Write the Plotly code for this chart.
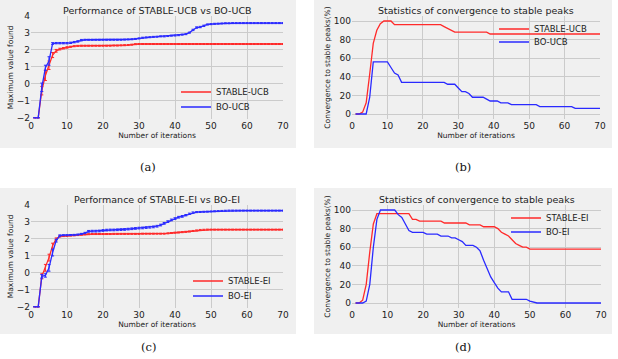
import plotly.graph_objects as go

# ---------------- data ----------------
iterations = list(range(1, 71))

# (a) maximum value found, UCB
stable_ucb_max = [-2.0, -2.0, -0.4, 0.5, 1.1, 1.7, 1.95, 2.05, 2.1, 2.15,
                  2.19, 2.22, 2.24, 2.25, 2.25, 2.25, 2.25, 2.25, 2.25, 2.25,
                  2.25, 2.25, 2.26, 2.26, 2.27, 2.28, 2.29, 2.31, 2.34, 2.35,
                  2.35, 2.35, 2.35, 2.35, 2.35, 2.35, 2.35, 2.35, 2.35, 2.35,
                  2.35, 2.35, 2.35, 2.35, 2.35, 2.35, 2.35, 2.35, 2.35, 2.35,
                  2.35, 2.35, 2.35, 2.35, 2.35, 2.35, 2.35, 2.35, 2.35, 2.35,
                  2.35, 2.35, 2.35, 2.35, 2.35, 2.35, 2.35, 2.35, 2.35, 2.35]
stable_ucb_err = [0.0, 0.0, 0.25, 0.3, 0.25, 0.15, 0.08, 0.05, 0.04, 0.04,
                  0.03, 0.03, 0.03, 0.03, 0.03, 0.03, 0.03, 0.03, 0.03, 0.03,
                  0.03, 0.03, 0.03, 0.03, 0.03, 0.03, 0.03, 0.03, 0.03, 0.03,
                  0.03, 0.03, 0.03, 0.03, 0.03, 0.03, 0.03, 0.03, 0.03, 0.03,
                  0.03, 0.03, 0.03, 0.03, 0.03, 0.03, 0.03, 0.03, 0.03, 0.03,
                  0.03, 0.03, 0.03, 0.03, 0.03, 0.03, 0.03, 0.03, 0.03, 0.03,
                  0.03, 0.03, 0.03, 0.03, 0.03, 0.03, 0.03, 0.03, 0.03, 0.03]
bo_ucb_max = [-2.0, -2.0, -0.2, 0.95, 1.35, 2.38, 2.4, 2.4, 2.4, 2.4,
              2.42, 2.46, 2.5, 2.58, 2.6, 2.6, 2.6, 2.6, 2.6, 2.6,
              2.6, 2.6, 2.6, 2.6, 2.6, 2.61, 2.62, 2.63, 2.65, 2.68,
              2.72, 2.74, 2.75, 2.77, 2.78, 2.8, 2.8, 2.82, 2.84, 2.85,
              2.87, 2.9, 2.93, 3.02, 3.18, 3.32, 3.35, 3.42, 3.5, 3.52,
              3.54, 3.55, 3.56, 3.57, 3.57, 3.58, 3.58, 3.58, 3.58, 3.58,
              3.58, 3.58, 3.58, 3.58, 3.58, 3.58, 3.58, 3.58, 3.58, 3.58]
bo_ucb_err = [0.0, 0.0, 0.25, 0.15, 0.25, 0.05, 0.04, 0.04, 0.04, 0.04,
              0.04, 0.04, 0.04, 0.04, 0.03, 0.03, 0.03, 0.03, 0.03, 0.03,
              0.03, 0.03, 0.03, 0.03, 0.03, 0.03, 0.03, 0.03, 0.03, 0.03,
              0.03, 0.03, 0.03, 0.03, 0.03, 0.03, 0.03, 0.03, 0.03, 0.03,
              0.03, 0.03, 0.03, 0.03, 0.04, 0.04, 0.04, 0.04, 0.03, 0.03,
              0.03, 0.03, 0.03, 0.03, 0.03, 0.03, 0.03, 0.03, 0.03, 0.03,
              0.03, 0.03, 0.03, 0.03, 0.03, 0.03, 0.03, 0.03, 0.03, 0.03]

# (b) convergence to stable peaks (%), UCB
stable_ucb_conv = [0, 0, 2, 12, 43, 76, 90, 97, 100, 100,
                   100, 96, 96, 96, 96, 96, 96, 96, 96, 96,
                   96, 96, 96, 96, 96, 94, 92, 90, 88, 88,
                   88, 88, 88, 88, 88, 88, 88, 88, 86, 86,
                   86, 86, 86, 86, 86, 86, 86, 86, 86, 86,
                   86, 86, 86, 86, 86, 86, 86, 86, 86, 86,
                   86, 86, 86, 86, 86, 86, 86, 86, 86, 86]
bo_ucb_conv = [0, 0, 0, 0, 18, 56, 56, 56, 56, 56,
               50, 44, 42, 34, 34, 34, 34, 34, 34, 34,
               34, 34, 34, 34, 34, 34, 32, 32, 32, 28,
               24, 24, 22, 18, 18, 18, 18, 16, 14, 14,
               14, 12, 12, 12, 10, 10, 10, 10, 10, 10,
               10, 10, 8, 8, 8, 8, 8, 8, 8, 8,
               8, 8, 6, 6, 6, 6, 6, 6, 6, 6]

# (c) maximum value found, EI
stable_ei_max = [-2.0, -2.0, -0.2, 0.3, 0.9, 1.6, 2.0, 2.15, 2.17, 2.18,
                 2.2, 2.21, 2.23, 2.25, 2.27, 2.28, 2.29, 2.29, 2.29, 2.29,
                 2.29, 2.29, 2.3, 2.3, 2.3, 2.3, 2.3, 2.3, 2.3, 2.3,
                 2.31, 2.31, 2.31, 2.31, 2.31, 2.31, 2.31, 2.33, 2.35, 2.37,
                 2.38, 2.4, 2.42, 2.44, 2.47, 2.5, 2.53, 2.54, 2.55, 2.55,
                 2.55, 2.55, 2.55, 2.55, 2.55, 2.55, 2.55, 2.55, 2.55, 2.55,
                 2.55, 2.55, 2.55, 2.55, 2.55, 2.55, 2.55, 2.55, 2.55, 2.55]
stable_ei_err = [0.0, 0.0, 0.15, 0.2, 0.2, 0.15, 0.06, 0.04, 0.03, 0.03,
                 0.03, 0.03, 0.03, 0.03, 0.03, 0.03, 0.03, 0.03, 0.03, 0.03,
                 0.03, 0.03, 0.03, 0.03, 0.03, 0.03, 0.03, 0.03, 0.03, 0.03,
                 0.03, 0.03, 0.03, 0.03, 0.03, 0.03, 0.03, 0.03, 0.03, 0.03,
                 0.03, 0.03, 0.03, 0.03, 0.03, 0.03, 0.03, 0.03, 0.03, 0.03,
                 0.03, 0.03, 0.03, 0.03, 0.03, 0.03, 0.03, 0.03, 0.03, 0.03,
                 0.03, 0.03, 0.03, 0.03, 0.03, 0.03, 0.03, 0.03, 0.03, 0.03]
bo_ei_max = [-2.0, -2.0, -0.2, -0.15, 0.3, 1.2, 1.9, 2.2, 2.22, 2.22,
             2.23, 2.24, 2.26, 2.3, 2.35, 2.45, 2.46, 2.46, 2.47, 2.5,
             2.52, 2.53, 2.53, 2.54, 2.55, 2.56, 2.58, 2.6, 2.62, 2.64,
             2.65, 2.67, 2.69, 2.71, 2.75, 2.82, 2.92, 3.02, 3.12, 3.2,
             3.28, 3.33, 3.4, 3.48, 3.55, 3.58, 3.59, 3.6, 3.61, 3.62,
             3.63, 3.64, 3.65, 3.66, 3.67, 3.67, 3.67, 3.67, 3.67, 3.67,
             3.67, 3.67, 3.67, 3.67, 3.67, 3.67, 3.67, 3.67, 3.67, 3.67]
bo_ei_err = [0.0, 0.0, 0.1, 0.1, 0.2, 0.2, 0.08, 0.04, 0.03, 0.03,
             0.03, 0.03, 0.03, 0.03, 0.04, 0.05, 0.05, 0.05, 0.05, 0.05,
             0.05, 0.05, 0.05, 0.05, 0.05, 0.05, 0.05, 0.05, 0.05, 0.05,
             0.05, 0.05, 0.05, 0.05, 0.05, 0.05, 0.05, 0.05, 0.05, 0.05,
             0.05, 0.05, 0.04, 0.04, 0.04, 0.03, 0.03, 0.03, 0.03, 0.03,
             0.03, 0.03, 0.03, 0.03, 0.03, 0.03, 0.03, 0.03, 0.03, 0.03,
             0.03, 0.03, 0.03, 0.03, 0.03, 0.03, 0.03, 0.03, 0.03, 0.03]

# (d) convergence to stable peaks (%), EI
stable_ei_conv = [0, 0, 3, 20, 55, 85, 96, 96, 96, 96,
                  96, 96, 96, 96, 96, 96, 90, 90, 88, 88,
                  88, 88, 88, 88, 88, 86, 86, 86, 86, 86,
                  86, 86, 84, 84, 84, 84, 82, 82, 82, 82,
                  80, 76, 74, 72, 68, 64, 62, 60, 60, 58,
                  58, 58, 58, 58, 58, 58, 58, 58, 58, 58,
                  58, 58, 58, 58, 58, 58, 58, 58, 58, 58]
bo_ei_conv = [0, 0, 0, 2, 20, 60, 90, 100, 100, 100,
              100, 100, 95, 92, 85, 78, 76, 76, 76, 76,
              74, 74, 74, 74, 72, 72, 72, 70, 70, 68,
              66, 62, 62, 62, 60, 56, 46, 36, 28, 22,
              16, 12, 12, 12, 4, 4, 4, 4, 4, 2,
              1, 0, 0, 0, 0, 0, 0, 0, 0, 0,
              0, 0, 0, 0, 0, 0, 0, 0, 0, 0]

titles = ["Performance of STABLE-UCB vs BO-UCB",
          "Statistics of convergence to stable peaks",
          "Performance of STABLE-EI vs BO-EI",
          "Statistics of convergence to stable peaks"]
captions = ["(a)", "(b)", "(c)", "(d)"]
x_label = "Number of iterations"
y_label_max = "Maximum value found"
y_label_conv = "Convergence to stable peaks(%)"

# ---------------- style ----------------
W, H = 618, 359
RED = "#ff2a2a"
BLUE = "#2a2aff"
BG = "#f0f0f0"
GRID = "#cbcbcb"
TXT = "#222222"
FONT = "DejaVu Sans"


def fx(p):
    return p / W


def fy(p):
    return 1 - p / H


fig = go.Figure()


def err_trace(y, e, name, color, xa, ya, leg):
    return go.Scatter(x=iterations, y=y, name=name, mode="lines",
                      line=dict(color=color, width=1.3),
                      error_y=dict(type="data", array=e, color=color,
                                   thickness=1, width=1.5),
                      xaxis=xa, yaxis=ya, legend=leg, showlegend=True)


def line_trace(y, name, color, xa, ya, leg):
    return go.Scatter(x=iterations, y=y, name=name, mode="lines",
                      line=dict(color=color, width=1.3),
                      xaxis=xa, yaxis=ya, legend=leg, showlegend=True)


fig.add_trace(err_trace(stable_ucb_max, stable_ucb_err, "STABLE-UCB", RED, "x", "y", "legend"))
fig.add_trace(err_trace(bo_ucb_max, bo_ucb_err, "BO-UCB", BLUE, "x", "y", "legend2"))
fig.add_trace(line_trace(stable_ucb_conv, "STABLE-UCB", RED, "x2", "y2", "legend3"))
fig.add_trace(line_trace(bo_ucb_conv, "BO-UCB", BLUE, "x2", "y2", "legend4"))
fig.add_trace(err_trace(stable_ei_max, stable_ei_err, "STABLE-EI", RED, "x3", "y3", "legend5"))
fig.add_trace(err_trace(bo_ei_max, bo_ei_err, "BO-EI", BLUE, "x3", "y3", "legend6"))
fig.add_trace(line_trace(stable_ei_conv, "STABLE-EI", RED, "x4", "y4", "legend7"))
fig.add_trace(line_trace(bo_ei_conv, "BO-EI", BLUE, "x4", "y4", "legend8"))

# panel geometry (pixels)
panels = [
    dict(x0=31, x1=283, y0=16, y1=118.7, yr=[-2.05, 4.0], dt=1, box=(0, 296, 0, 148), cap=167),
    dict(x0=352, x1=600, y0=16.35, y1=118.65, yr=[-5, 105], dt=20, box=(314, 612, 0, 148), cap=167),
    dict(x0=31, x1=283, y0=205, y1=307.7, yr=[-2.05, 4.0], dt=1, box=(0, 296, 188, 334), cap=347),
    dict(x0=352, x1=601, y0=205.35, y1=307.65, yr=[-5, 105], dt=20, box=(314, 612, 188, 334), cap=347),
]
ylabels = [y_label_max, y_label_conv, y_label_max, y_label_conv]

layout = dict(width=W, height=H, margin=dict(l=0, r=0, t=0, b=0),
              paper_bgcolor="white", plot_bgcolor=BG, showlegend=True,
              font=dict(family=FONT, color=TXT), shapes=[], annotations=[])

for i, p in enumerate(panels):
    sfx = "" if i == 0 else str(i + 1)
    layout["xaxis" + sfx] = dict(
        domain=[fx(p["x0"]), fx(p["x1"])], range=[0, 70], dtick=10,
        anchor="y" + sfx, showgrid=True, gridcolor=GRID, gridwidth=1,
        zeroline=False, showline=False, ticks="",
        tickfont=dict(size=9, color=TXT, family=FONT),
        title=dict(text=x_label, font=dict(size=7.5, color=TXT, family=FONT), standoff=2),
        automargin=False)
    layout["yaxis" + sfx] = dict(
        domain=[fy(p["y1"]), fy(p["y0"])], range=p["yr"], dtick=p["dt"],
        anchor="x" + sfx, showgrid=True, gridcolor=GRID, gridwidth=1,
        zeroline=False, showline=False, ticks="",
        tickfont=dict(size=9, color=TXT, family=FONT),
        title=dict(text=ylabels[i], font=dict(size=7.5, color=TXT, family=FONT), standoff=2),
        automargin=False)
    bx0, bx1, by0, by1 = p["box"]
    layout["shapes"].append(dict(type="rect", xref="paper", yref="paper",
                                 x0=fx(bx0), x1=fx(bx1), y0=fy(by1), y1=fy(by0),
                                 fillcolor=BG, line=dict(width=0), layer="below"))
    layout["annotations"].append(dict(
        text=titles[i], xref="paper", yref="paper",
        x=fx((p["x0"] + p["x1"]) / 2), y=fy(p["y0"] - 5.5),
        xanchor="center", yanchor="middle", showarrow=False,
        font=dict(size=9.5, color=TXT, family=FONT)))
    layout["annotations"].append(dict(
        text=captions[i], xref="paper", yref="paper",
        x=fx((bx0 + bx1) / 2), y=fy(p["cap"]),
        xanchor="center", yanchor="middle", showarrow=False,
        font=dict(size=11.5, color="#111111", family="DejaVu Serif")))

# legends (one entry each), text left edge / entry centre in pixels
legend_pos = [(218, 92), (218, 107), (536, 29), (536, 42),
              (230, 281), (230, 296), (548, 218), (548, 232)]
for i, (tx, ty) in enumerate(legend_pos):
    key = "legend" if i == 0 else "legend" + str(i + 1)
    layout[key] = dict(x=fx(tx - 42), y=fy(ty), xanchor="left", yanchor="middle",
                       bgcolor="rgba(0,0,0,0)", borderwidth=0, visible=True,
                       font=dict(size=8.5, color=TXT, family=FONT))

fig.update_layout(**layout)
fig.write_html("out.html")
